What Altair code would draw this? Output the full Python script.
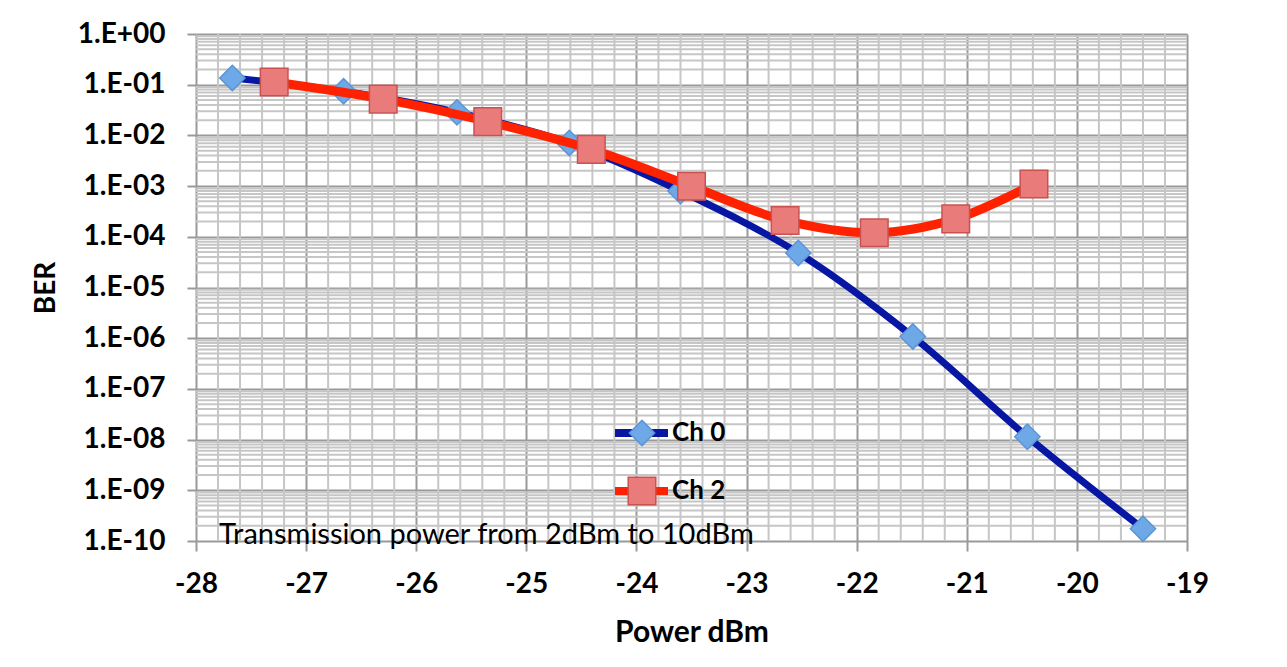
import json
import altair as alt
import pandas as pd

# ---------------- data ----------------
series_names = ["Ch 0", "Ch 2"]

ch0_power = [-27.67, -26.66, -25.63, -24.61, -23.60, -22.53, -21.49, -20.45, -19.40]
ch0_ber = [1.36e-1, 7.4e-2, 2.85e-2, 7.1e-3, 8.0e-4, 4.8e-5, 1.08e-6, 1.14e-8, 1.75e-10]

ch2_power = [-27.29, -26.30, -25.35, -24.41, -23.50, -22.65, -21.84, -21.10, -20.39]
ch2_ber = [1.13e-1, 5.2e-2, 1.87e-2, 5.3e-3, 9.9e-4, 2.1e-4, 1.2e-4, 2.26e-4, 1.1e-3]

x_ticks = [-28, -27, -26, -25, -24, -23, -22, -21, -20, -19]
y_ticks = [1e0, 1e-1, 1e-2, 1e-3, 1e-4, 1e-5, 1e-6, 1e-7, 1e-8, 1e-9, 1e-10]
y_tick_labels = ["1.E+00", "1.E-01", "1.E-02", "1.E-03", "1.E-04", "1.E-05",
                 "1.E-06", "1.E-07", "1.E-08", "1.E-09", "1.E-10"]

note_text = ["Transmission power from 2dBm to 10dBm"]
note_power = [-27.79]
note_ber = [1.3e-10]

# minor grid positions (Excel-style minor gridlines)
x_minor = [round(-28 + 0.2 * i, 1) for i in range(46) if i % 5 != 0]
y_minor = [m * 10.0 ** k for k in range(-10, 0) for m in range(2, 10)]

# ---------------- styling ----------------
FONT = "Lato"
MAJOR = "#9a9a9a"
MINOR = "#c6c6c6"
line_colors = ["#0717A3", "#FF2200"]
marker_fill = ["#6FA8E6", "#E97B7B"]
marker_stroke = ["#5C95D6", "#C9524F"]
marker_shape = ["diamond", "square"]
marker_size = [640, 760]

df = pd.DataFrame({
    "power": ch0_power + ch2_power,
    "ber": ch0_ber + ch2_ber,
    "series": [series_names[0]] * len(ch0_power) + [series_names[1]] * len(ch2_power),
})
df["marker"] = df["series"]

df_xminor = pd.DataFrame({"power": x_minor})
df_yminor = pd.DataFrame({"ber": y_minor})
df_note = pd.DataFrame({"power": note_power, "ber": note_ber, "text": note_text})

x_scale = alt.Scale(domain=[-28, -19], nice=False, zero=False)
y_scale = alt.Scale(type="log", domain=[1e-10, 1], nice=False)

x_axis = alt.Axis(
    values=x_ticks, labelExpr="datum.value + ''",
    grid=True, gridColor=MAJOR, gridWidth=2, domain=False,
    ticks=True, tickColor=MAJOR, tickWidth=2, tickSize=10,
    labelFont=FONT, labelFontWeight="bold", labelFontSize=28, labelColor="black",
    labelPadding=19, labelFlush=False,
    title="Power dBm", titleFont=FONT, titleFontWeight="bold", titleFontSize=30,
    titleColor="black", titlePadding=19,
)
y_axis = alt.Axis(
    values=y_ticks,
    labelExpr=json.dumps(y_tick_labels) + "[round(-log(datum.value)/LN10)]",
    grid=True, gridColor=MAJOR, gridWidth=2, domain=False,
    ticks=True, tickColor=MAJOR, tickWidth=2, tickSize=9,
    labelFont=FONT, labelFontWeight="bold", labelFontSize=28, labelColor="black",
    labelPadding=22, labelFlush=False,
    title="BER", titleFont=FONT, titleFontWeight="bold", titleFontSize=28,
    titleColor="black", titlePadding=17,
)

X = alt.X("power:Q", scale=x_scale, axis=x_axis, title="Power dBm")
Y = alt.Y("ber:Q", scale=y_scale, axis=y_axis, title="BER")

legend_lines = alt.Legend(
    title=None, orient="none", legendX=415, legendY=384, padding=0,
    symbolType="stroke", symbolSize=2809, symbolStrokeWidth=8,
    labelFont=FONT, labelFontWeight="bold", labelFontSize=26, labelColor="black",
    labelOffset=0, clipHeight=30, rowPadding=28,
)
legend_markers = alt.Legend(
    title=None, orient="none", legendX=431, legendY=384, padding=0,
    symbolStrokeWidth=1.5, symbolOpacity=1,
    labelExpr="''", labelFontSize=26,
    labelOffset=0, clipHeight=30, rowPadding=28,
)

color_enc = alt.Color("series:N", scale=alt.Scale(range=line_colors), legend=legend_lines)
shape_enc = alt.Shape("marker:N", scale=alt.Scale(range=marker_shape), legend=legend_markers)
fill_enc = alt.Fill("marker:N", scale=alt.Scale(range=marker_fill), legend=legend_markers)
stroke_enc = alt.Stroke("marker:N", scale=alt.Scale(range=marker_stroke), legend=legend_markers)
size_enc = alt.Size("marker:N", scale=alt.Scale(range=marker_size), legend=legend_markers)

grid_v = alt.Chart(df_xminor).mark_rule(color=MINOR, strokeWidth=2).encode(x=X)
grid_h = alt.Chart(df_yminor).mark_rule(color=MINOR, strokeWidth=2).encode(y=Y)

note = alt.Chart(df_note).mark_text(
    align="left", baseline="middle", font=FONT, fontSize=29, color="black"
).encode(x=X, y=Y, text="text:N")

base = alt.Chart(df)


def line_layer(name, width):
    return base.transform_filter(alt.datum.series == name).mark_line(
        interpolate="catmull-rom", strokeWidth=width, strokeCap="round"
    ).encode(x=X, y=Y, color=color_enc)


def point_layer(name):
    return base.transform_filter(alt.datum.series == name).mark_point(
        filled=True, opacity=1, strokeWidth=1.5
    ).encode(x=X, y=Y, shape=shape_enc, fill=fill_enc, stroke=stroke_enc, size=size_enc)


chart = alt.layer(
    grid_v, grid_h, note,
    line_layer("Ch 0", 7), point_layer("Ch 0"),
    line_layer("Ch 2", 9), point_layer("Ch 2"),
).properties(
    width=991, height=507,
    autosize=alt.AutoSizeParams(type="none"),
    padding={"left": 188, "top": 26, "right": 80, "bottom": 110},
).configure_view(stroke=None).configure(background="white")

chart.save("out.html", embed_options={"renderer": "svg", "actions": False})
